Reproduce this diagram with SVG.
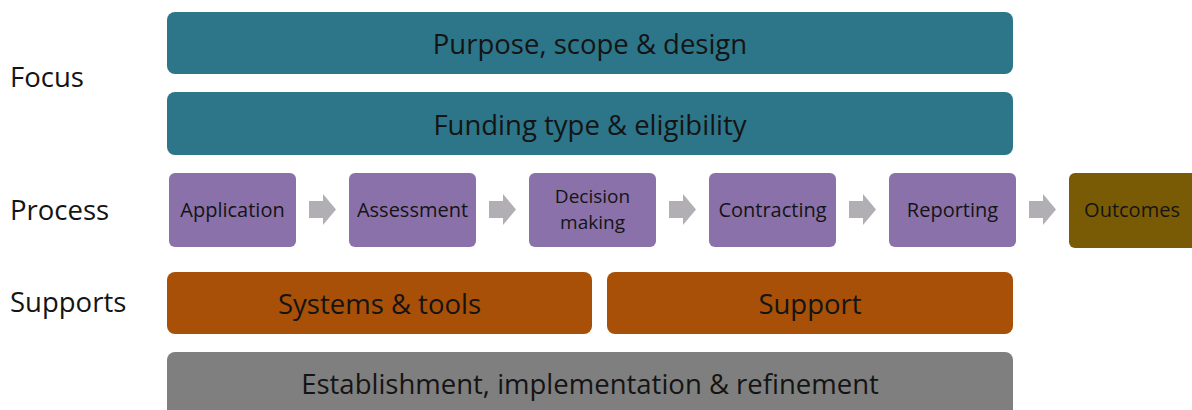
<svg xmlns="http://www.w3.org/2000/svg" width="1192" height="410" viewBox="0 0 1192 410">
  <style>
    text { font-family: "Open Sans", "Noto Sans", sans-serif; fill: #141414; }
    .row { font-size: 27.5px; }
    .bar { font-size: 27.5px; text-anchor: middle; dominant-baseline: central; }
    .step { font-size: 20px; text-anchor: middle; dominant-baseline: central; }
    .two { font-size: 19px; }
    .teal { fill: #2D7689; }
    .purple { fill: #8A71AA; }
    .olive { fill: #7A5B05; }
    .orange { fill: #A85008; }
    .grey { fill: #7F7F7F; }
    .arrow { fill: #B1AFB4; }
  </style>
  <defs>
    <path id="chev" d="M0,7 H14 V0 L27,15.5 L14,31 V24 H0 Z"/>
  </defs>

  <!-- row labels -->
  <g id="labels">
    <text class="row" x="10" y="87">Focus</text>
    <text class="row" x="10" y="220">Process</text>
    <text class="row" x="10" y="312">Supports</text>
  </g>

  <!-- focus bars -->
  <g id="purpose">
    <rect class="teal" x="167" y="12" width="846" height="62" rx="8"/>
    <text class="bar" x="590" y="43">Purpose, scope &amp; design</text>
  </g>
  <g id="funding">
    <rect class="teal" x="167" y="92" width="846" height="63" rx="8"/>
    <text class="bar" x="590" y="124">Funding type &amp; eligibility</text>
  </g>

  <!-- process steps -->
  <g id="application">
    <rect class="purple" x="169" y="173" width="127" height="74" rx="6"/>
    <text class="step" x="232.5" y="209">Application</text>
  </g>
  <g id="assessment">
    <rect class="purple" x="349" y="173" width="127" height="74" rx="6"/>
    <text class="step" x="412.5" y="209">Assessment</text>
  </g>
  <g id="decision">
    <rect class="purple" x="529" y="173" width="127" height="74" rx="6"/>
    <text class="step two" x="592.5" y="196">Decision</text>
    <text class="step two" x="592.5" y="222">making</text>
  </g>
  <g id="contracting">
    <rect class="purple" x="709" y="173" width="127" height="74" rx="6"/>
    <text class="step" x="772.5" y="209">Contracting</text>
  </g>
  <g id="reporting">
    <rect class="purple" x="889" y="173" width="127" height="74" rx="6"/>
    <text class="step" x="952.5" y="209">Reporting</text>
  </g>
  <g id="outcomes">
    <rect class="olive" x="1069" y="173" width="130" height="75" rx="6"/>
    <text class="step" x="1132" y="209">Outcomes</text>
  </g>

  <!-- connectors between steps -->
  <g id="connectors">
    <use class="arrow" href="#chev" x="309" y="194"/>
    <use class="arrow" href="#chev" x="489" y="194"/>
    <use class="arrow" href="#chev" x="669" y="194"/>
    <use class="arrow" href="#chev" x="849" y="194"/>
    <use class="arrow" href="#chev" x="1029" y="194"/>
  </g>

  <!-- supports -->
  <g id="systems">
    <rect class="orange" x="167" y="272" width="425" height="62" rx="8"/>
    <text class="bar" x="379.5" y="303">Systems &amp; tools</text>
  </g>
  <g id="support">
    <rect class="orange" x="607" y="272" width="406" height="62" rx="8"/>
    <text class="bar" x="810" y="303">Support</text>
  </g>
  <g id="establishment">
    <rect class="grey" x="167" y="352" width="846" height="66" rx="8"/>
    <text class="bar" x="590" y="383">Establishment, implementation &amp; refinement</text>
  </g>
</svg>
